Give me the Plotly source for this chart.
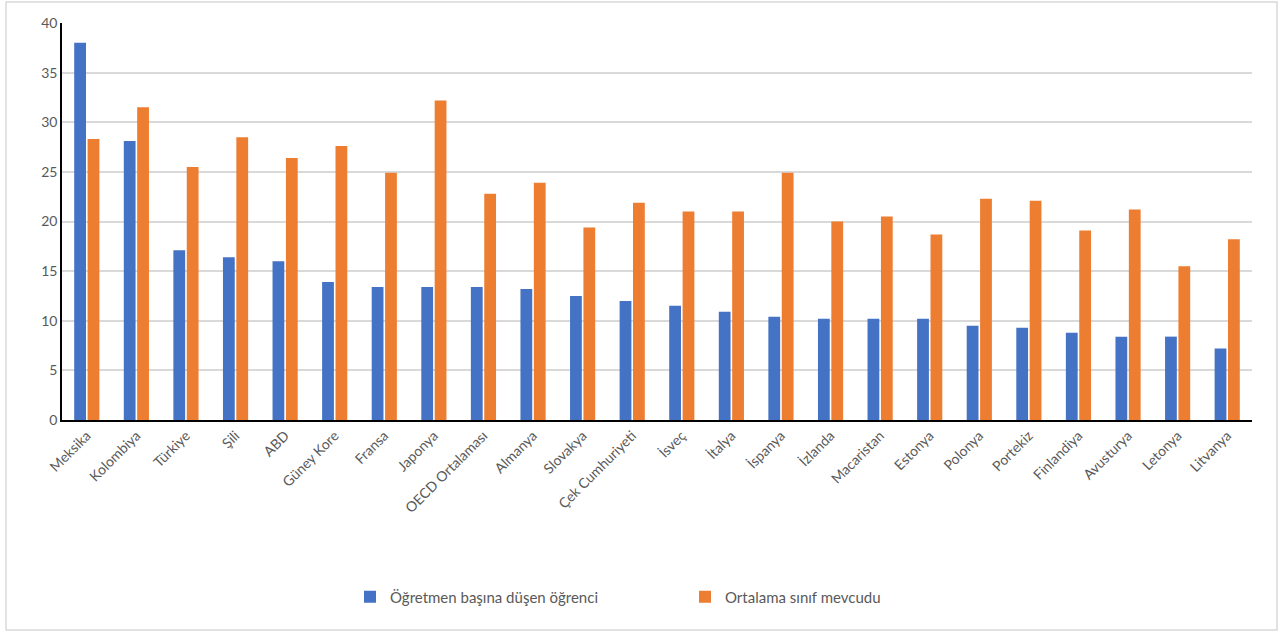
import plotly.graph_objects as go

categories = ["Meksika", "Kolombiya", "Türkiye", "Şili", "ABD", "Güney Kore", "Fransa",
              "Japonya", "OECD Ortalaması", "Almanya", "Slovakya", "Çek Cumhuriyeti",
              "İsveç", "İtalya", "İspanya", "İzlanda", "Macaristan", "Estonya", "Polonya",
              "Portekiz", "Finlandiya", "Avusturya", "Letonya", "Litvanya"]
ogrenci_per_ogretmen = [38.0, 28.1, 17.1, 16.4, 16.0, 13.9, 13.4, 13.4, 13.4, 13.2, 12.5, 12.0,
                        11.5, 10.9, 10.4, 10.2, 10.2, 10.2, 9.5, 9.3, 8.8, 8.4, 8.4, 7.2]
sinif_mevcudu = [28.3, 31.5, 25.5, 28.5, 26.4, 27.6, 24.9, 32.2, 22.8, 23.9, 19.4, 21.9,
                 21.0, 21.0, 24.9, 20.0, 20.5, 18.7, 22.3, 22.1, 19.1, 21.2, 15.5, 18.2]
series_names = ["Öğretmen başına düşen öğrenci", "Ortalama sınıf mevcudu"]

FONT = "Lato, Open Sans, sans-serif"
GRAY = "#595959"

fig = go.Figure()
fig.add_trace(go.Bar(x=categories, y=ogrenci_per_ogretmen, name=series_names[0],
                     marker=dict(color="#4472C4", line=dict(width=0))))
fig.add_trace(go.Bar(x=categories, y=sinif_mevcudu, name=series_names[1],
                     marker=dict(color="#ED7D31", line=dict(width=0))))

W, H = 1283, 633
L, R, T, B = 62, 31, 23, 213
pw, ph = W - L - R, H - T - B

def px(x):
    return (x - L) / pw

def py(y):
    return (H - B - y) / ph

fig.update_layout(
    width=W, height=H,
    margin=dict(l=L, r=R, t=T, b=B),
    paper_bgcolor="white", plot_bgcolor="white",
    barmode="group", bargap=0.46, bargroupgap=0.12,
    font=dict(family=FONT, size=13, color=GRAY),
    showlegend=True,
    legend=dict(orientation="h", x=px(350), xanchor="left", y=py(597), yanchor="middle",
                font=dict(family=FONT, size=15, color=GRAY),
                itemwidth=30, entrywidth=290, traceorder="normal"),
    xaxis=dict(tickangle=-45, showgrid=False, showline=True, linecolor="black",
               linewidth=2, ticks="", tickfont=dict(family=FONT, size=14, color=GRAY)),
    yaxis=dict(range=[0, 40], dtick=5, showgrid=True, gridcolor="#d9d9d9", gridwidth=1.5,
               showline=True, linecolor="black", linewidth=1.5, ticks="", zeroline=False,
               tickfont=dict(family=FONT, size=14, color=GRAY)),
    shapes=[dict(type="rect", xref="paper", yref="paper",
                 x0=px(6), x1=px(1277), y0=py(630), y1=py(2),
                 line=dict(color="#d9d9d9", width=1.5), fillcolor="rgba(0,0,0,0)",
                 layer="below")],
)

fig.write_html("out.html", config={"displayModeBar": False},
               post_script="document.body.style.margin='0px';document.body.style.overflow='hidden';")
